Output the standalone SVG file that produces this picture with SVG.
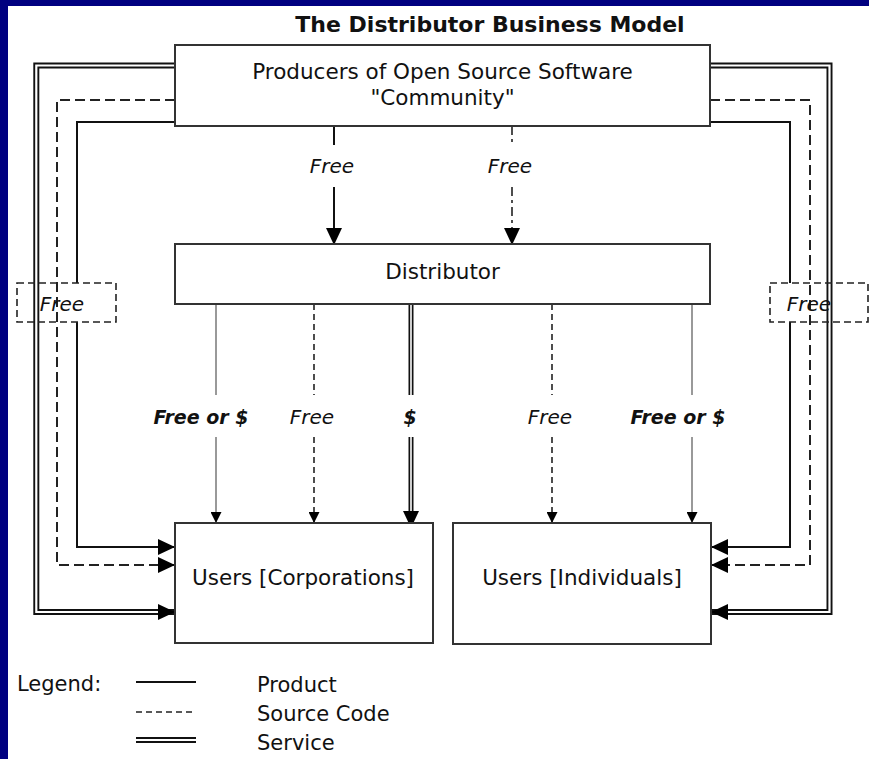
<svg xmlns="http://www.w3.org/2000/svg" width="869" height="759" viewBox="0 0 869 759">
<style>
text{font-family:"DejaVu Sans","Liberation Sans",sans-serif;fill:#111}
.box{fill:#fff;stroke:#333;stroke-width:2}
.t{font-size:21.5px;text-anchor:middle}
.lbl{font-size:20px;font-style:italic;text-anchor:middle}
.blbl{font-size:19px;font-style:italic;font-weight:bold;text-anchor:middle}
.solid{fill:none;stroke:#111;stroke-width:2}
.thin{fill:none;stroke:#555;stroke-width:1.2}
.dash{fill:none;stroke:#222;stroke-width:2;stroke-dasharray:10 5}
.mdash{fill:none;stroke:#222;stroke-width:1.6;stroke-dasharray:6 4}
.ddash{fill:none;stroke:#222;stroke-width:1.6;stroke-dasharray:9 4 3 4}
.dbl{fill:none;stroke:#111;stroke-width:6}
.dblw{fill:none;stroke:#fff;stroke-width:2.2}
.dbls{fill:none;stroke:#111;stroke-width:5}
.dblsw{fill:none;stroke:#fff;stroke-width:1.6}
.fbox{fill:none;stroke:#222;stroke-width:1.6;stroke-dasharray:7 4}
.leg{font-size:21px}
</style>
<defs>
<marker id="ah" markerUnits="userSpaceOnUse" markerWidth="17" markerHeight="16" refX="17" refY="8" orient="auto"><path d="M0,0 L17,8 L0,16 z" fill="#000"/></marker>
<marker id="ahs" markerUnits="userSpaceOnUse" markerWidth="11" markerHeight="11" refX="11" refY="5.5" orient="auto"><path d="M0,0 L11,5.5 L0,11 z" fill="#000"/></marker>
</defs>
<rect x="0" y="0" width="869" height="759" fill="#fff"/>
<rect x="0" y="0" width="8" height="759" fill="#000080"/>
<rect x="0" y="0" width="869" height="6" fill="#000080"/>
<text x="490" y="32" style="font-size:22px;font-weight:bold;text-anchor:middle">The Distributor Business Model</text>
<g id="connectors">
<path class="dbl" d="M175,65.5 H36.3 V612 H175" marker-end="url(#ah)"/>
<path class="dblw" d="M175,65.5 H36.3 V612 H158"/>
<path class="dash" d="M175,100 H57 V565 H175" marker-end="url(#ah)"/>
<path class="solid" d="M175,122 H77 V283"/>
<path class="solid" d="M77,322 V547 H175" marker-end="url(#ah)"/>
<path class="dbl" d="M710,65.5 H829.5 V612 H711" marker-end="url(#ah)"/>
<path class="dblw" d="M710,65.5 H829.5 V612 H728"/>
<path class="dash" d="M710,100 H810 V565 H711" marker-end="url(#ah)"/>
<path class="solid" d="M710,122 H790 V283"/>
<path class="solid" d="M790,322 V547 H711" marker-end="url(#ah)"/>
<path class="solid" d="M334,126 V145"/>
<path class="solid" d="M334,187 V245" marker-end="url(#ah)"/>
<path class="ddash" d="M512,126 V145"/>
<path class="ddash" d="M512,187 V245" marker-end="url(#ah)"/>
<path class="thin" d="M216,304 V395"/>
<path class="thin" d="M216,437 V523" marker-end="url(#ahs)"/>
<path class="mdash" d="M314,304 V395"/>
<path class="mdash" d="M314,437 V523" marker-end="url(#ahs)"/>
<path class="dbls" d="M411,304 V395"/>
<path class="dblsw" d="M411,304 V395"/>
<path class="dbls" d="M411,437 V528" marker-end="url(#ah)"/>
<path class="dblsw" d="M411,437 V511"/>
<path class="mdash" d="M552,304 V395"/>
<path class="mdash" d="M552,437 V523" marker-end="url(#ahs)"/>
<path class="thin" d="M692,304 V395"/>
<path class="thin" d="M692,437 V523" marker-end="url(#ahs)"/>
<text class="lbl" x="332" y="173">Free</text>
<text class="lbl" x="510" y="173">Free</text>
<text class="blbl" x="201" y="424">Free or $</text>
<text class="lbl" x="312" y="424">Free</text>
<text class="blbl" x="410" y="424">$</text>
<text class="lbl" x="550" y="424">Free</text>
<text class="blbl" x="678" y="424">Free or $</text>
<g id="free-left"><rect class="fbox" x="17" y="283" width="99" height="39"/><text class="lbl" x="62" y="311">Free</text></g>
<g id="free-right"><rect class="fbox" x="770" y="283" width="98" height="39"/><text class="lbl" x="809" y="311">Free</text></g>
</g>
<g id="producers"><rect class="box" x="175" y="45" width="535" height="81"/><text class="t" x="442.5" y="79">Producers of Open Source Software</text><text class="t" x="442.5" y="105">"Community"</text></g>
<g id="distributor"><rect class="box" x="175" y="244" width="535" height="60"/><text class="t" x="442.5" y="279">Distributor</text></g>
<g id="corporations"><rect class="box" x="175" y="523" width="258" height="120"/><text class="t" x="303" y="585">Users [Corporations]</text></g>
<g id="individuals"><rect class="box" x="453" y="523" width="258" height="121"/><text class="t" x="582" y="585">Users [Individuals]</text></g>
<g id="legend">
<text class="leg" x="17" y="691">Legend:</text>
<path class="solid" d="M136,682 H196"/>
<path class="mdash" d="M136,712 H196"/>
<path class="dbl" d="M136,740 H196"/>
<path class="dblw" d="M136,740 H196"/>
<text class="leg" x="257" y="692">Product</text>
<text class="leg" x="257" y="721">Source Code</text>
<text class="leg" x="257" y="750">Service</text>
</g>
</svg>
